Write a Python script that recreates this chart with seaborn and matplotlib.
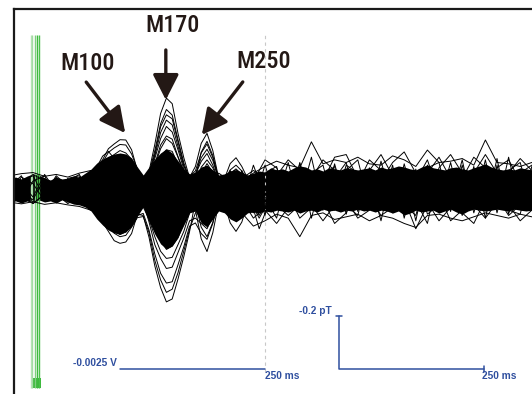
import pandas as pd
import matplotlib
matplotlib.use("Agg")
import matplotlib.pyplot as plt
import seaborn as sns
from matplotlib import font_manager

# ---- values: time in ms, field in fT ----
core_ms = list(range(-40, 870, 10))
core_top = [41, 45, 38, 49, 57,
            53, 41, 34, 45, 38, 41, 49, 45, 60, 75,
            98, 113, 124, 132, 136, 132, 117, 83, 53, 83,
            113, 136, 151, 136, 106, 75, 57, 64, 83, 90,
            72, 53, 57, 68, 72, 64, 53, 60, 68, 64,
            80, 72, 76, 68, 80, 87, 83, 72, 76, 68,
            80, 76, 72, 80, 76, 72, 76, 80, 72, 83,
            76, 80, 87, 83, 76, 72, 83, 91, 80, 76,
            72, 80, 83, 76, 72, 80, 87, 95, 83, 76,
            72, 76, 72, 80, 76, 72]
core_bottom = [-49, -45, -53, -45, -49,
               -41, -49, -45, -53, -41, -49, -57, -60, -68, -83,
               -113, -136, -155, -166, -170, -162, -140, -102, -68, -121,
               -170, -207, -226, -215, -181, -136, -90, -83, -128, -143,
               -113, -83, -90, -113, -124, -109, -90, -87, -90, -83,
               -87, -80, -83, -87, -80, -91, -83, -80, -87, -76,
               -83, -80, -87, -80, -83, -76, -83, -80, -87, -80,
               -83, -91, -83, -98, -91, -80, -87, -83, -80, -91,
               -83, -76, -87, -95, -83, -76, -80, -83, -80, -76,
               -80, -83, -76, -80, -83, -80]

# evoked part of the strongest channels
evoked_ms = list(range(80, 430, 10))
ch01 = [-8, -10, -28, -47, -78, -96, -118, -120, -122, -95, -58, 8, 66, 168, 285, 343, 322, 210,
        118, 42, -28, -88, -115, -80, -24, 10, 32, 40, 26, 12, -4, -10, -6, 4, 8]
ch02 = [6, 12, 35, 78, 110, 152, 170, 186, 185, 148, 70, -30, -92, -158, -195, -228, -215, -185,
        -130, -80, -12, 55, 75, 50, 15, -22, -44, -58, -40, -18, -2, 6, 10, 4, -3]
ch03 = [-4, -12, -44, -80, -126, -160, -195, -205, -200, -168, -95, -100, -182, -290, -372, -426,
        -415, -340, -255, -160, -45, 55, 96, 62, 18, -28, -58, -72, -58, -24, -8, 4, 12, 6, -2]
ch04 = [3, 6, 30, 82, 124, 142, 115, 82, 55, 42, 22, 18, 55, 132, 235, 280, 265, 178,
        90, 28, -78, -188, -236, -165, -55, 18, 48, 55, 45, 18, 2, -6, -3, 5, 2]
ch05 = [5, 12, 32, 70, 100, 138, 155, 168, 166, 132, 75, 25, 45, 115, 190, 236, 215, 148,
        75, 44, 85, 172, 210, 145, 42, -55, -128, -160, -125, -55, -10, 5, 8, 2, -4]
ch06 = [-4, -12, -30, -70, -105, -132, -160, -172, -162, -138, -100, -92, -155, -245, -318, -355,
        -350, -286, -218, -140, -128, -168, -190, -130, -38, 38, 96, 118, 85, 40, 6, -5, -8, -2, 4]
ch07 = [-2, -6, -5, 10, 18, -6, -58, -115, -138, -118, -70, -4, 36, 88, 152, 190, 172, 120,
        60, 34, 56, 118, 150, 108, 36, 4, -2, 3, -4, -18, -75, -150, -92, -25, 2]
ch08 = [4, 10, 26, 60, 84, 116, 130, 145, 136, 112, 45, -50, -124, -210, -262, -300, -295, -240,
        -185, -120, -110, -130, -150, -104, -36, 28, 58, 76, 55, 24, 4, -4, 2, 6, 2]
ch09 = [2, -3, -20, -35, -58, -72, -90, -92, -94, -72, -45, -2, 32, 70, 126, 148, 142, 92,
        52, 28, 54, 104, 134, 90, 30, -30, -78, -92, -70, -35, -6, 4, 2, -5, -2]
ch10 = [-3, 4, 25, 42, 70, 88, 108, 110, 112, 92, 36, -28, -82, -128, -168, -186, -185, -150,
        -116, -66, -12, 40, 55, 42, 6, -38, -92, -112, -88, -50, -68, -110, -70, -15, 3]
ch11 = [2, 3, -6, -32, -48, -40, 6, 58, 88, 72, 44, 12, 25, 52, 95, 110, 108, 68,
        40, 10, -25, -58, -78, -50, -20, 4, 8, 5, -2, -6, -3, 4, 6, 2, -3]
ch12 = [-5, -9, -24, -55, -76, -108, -120, -134, -125, -108, -75, -68, -114, -180, -235, -262,
        -258, -210, -160, -90, -10, 82, 110, 80, 30, 28, 62, 72, 58, 24, 8, -3, -6, 0, 4]
ch13 = [4, 0, 14, 20, 36, 44, 56, 55, 58, 44, 28, 8, 18, 34, 64, 72, 72, 45,
        28, 2, -40, -88, -115, -76, -34, -18, -48, -55, -45, -18, -8, -2, 4, 6, 0]
ch14 = [-2, -6, -12, -32, -42, -62, -68, -78, -70, -62, -42, -44, -60, -106, -130, -152, -144, -125,
        -88, -60, -62, -78, -96, -64, -20, 18, 34, 46, 32, 18, 2, -4, 2, 4, -2]
ch21 = [2, 5, 17, 40, 55, 78, 85, 96, 90, 76, 40, 19, 42, 94, 166, 200, 188, 122,
        68, 33, 27, 50, 58, 44, 12, -14, -34, -40, -28, -14, -3, 2, -4, 3, 0]
ch22 = [-3, -9, -36, -72, -108, -144, -167, -180, -175, -144, -108, -104, -164, -269, -343, -390,
        -378, -316, -234, -151, -91, -64, -60, -42, -10, 32, 72, 90, 68, 32, 7, -3, 2, -4, 2]
ch23 = [4, 7, 26, 52, 78, 104, 121, 130, 126, 104, 45, -31, -84, -138, -176, -200, -194, -162,
        -120, -78, -50, -40, -40, -28, -8, 14, 32, 40, 30, 14, 3, -2, 3, -2, 1]
ch24 = [0, -3, 4, 24, 40, 32, 0, -36, -54, -48, -27, 7, 52, 125, 213, 260, 242, 161,
        86, 48, 68, 136, 170, 119, 39, -28, -64, -80, -60, -28, -6, 3, -2, 4, 0]
ch25 = [2, 3, 12, 24, 36, 48, 56, 60, 58, 48, 27, 21, 60, 144, 246, 300, 279, 186,
        99, 36, -54, -144, -180, -126, -43, 11, 24, 30, 23, 11, 2, -3, 2, 0, -2]
ch26 = [-3, -8, -30, -60, -90, -120, -140, -150, -146, -120, -76, -41, -50, -83, -106, -120,
        -116, -97, -72, -37, 41, 139, 180, 126, 39, -42, -96, -120, -90, -52, -60, -100, -60, -15, 0]

# channels that stick out of the band over the whole sweep
fuzz_ms = list(range(-40, 880, 20))
ch15 = [50, 58, 62, 48, 55, 45, 60, 70, 40, 20, 10, -20, 30, 60, 40, 10, 30, 50, 20, 40, 30, 60, 85,
        105, 90, 80, 178, 95, 110, 100, 120, 95, 90, 125, 110, 85, 147, 100, 105, 115, 90, 185, 100,
        95, 85, 100]
ch16 = [-50, -56, -48, -58, -52, -60, -66, -80, -60, -40, -20, 10, -30, -50, -30, -10, -40, -60, -40,
        -70, -90, -140, -120, -95, -110, -180, -100, -90, -115, -105, -95, -120, -100, -110, -130,
        -145, -100, -95, -110, -120, -105, -90, -100, -110, -95, -105]
ch17 = [-30, 20, 55, 30, -20, -55, -30, 20, 30, -10, -20, 10, 20, -10, 15, 20, -10, 30, 10, -20, 40,
        70, 40, -60, -100, -60, 40, 110, 70, -40, -110, -80, 30, 100, 140, 60, -50, -120, -70, 40,
        120, 80, -30, -100, -60, 40]
ch18 = [20, -30, -55, -20, 35, 20, -25, -50, -20, 20, 30, 0, -20, 20, 10, -20, 10, -30, -20, 30, -40,
        -110, -70, 50, 110, 70, -60, -120, -60, 90, 60, -30, -100, -70, -40, -150, -60, 80, 130, 60,
        -60, -110, -50, 60, 115, 70]
ch19 = [-10, 45, 20, -45, -30, 40, 50, 0, -30, 10, 20, -10, 10, 30, -20, -30, 20, 20, -20, -40, 20,
        30, 110, 80, -20, -110, -70, 30, 120, 130, 40, 70, 130, 50, -60, -100, 60, 120, 40, -90,
        -130, -40, 80, 110, 30, -70]
ch20 = [35, -20, -40, 40, 10, -20, 20, 40, -10, -30, 0, 20, -10, -20, -15, 15, -20, -40, 20, 50, 60,
        -20, -80, -130, -70, 20, 60, -40, -130, -90, 20, 110, 70, -40, -90, 30, 110, -20, -120, -80,
        60, 130, 60, -60, -120, -80]
ch27 = [40, -45, 30, 50, -40, 30, 55, -45, 20, -20, 30, -10, 10, -30, 20, -10, 30, -20, 40, -60,
        70, -50, 90, -40, 100, -70, 60, 90, -80, 70, 110, -60, 50, -90, 95, -70, 80, 100, -85, 90,
        -70, 110, -90, 70, 100, -60]
ch28 = [-45, 30, 50, -35, 45, -50, 20, 60, -30, 15, -25, 20, -15, 25, -20, 15, -30, 40, -50, 70,
        -40, -90, 60, 85, -75, 100, -50, -80, 95, -60, -100, 80, -70, 90, -110, 75, -95, -60, 100, -75,
        85, -110, 90, -80, -95, 85]
ch29 = [10, 50, -55, -20, 50, 10, -50, 40, 25, -35, 10, -20, 30, 10, -25, 30, -15, -35, 60, 30,
        -80, 50, -100, 70, -50, 95, -110, 50, 85, -95, 60, -75, 105, -50, 70, -120, 90, -70, 75, -100,
        60, -80, 115, -95, 60, 90]
ch30 = [-55, 20, -30, 55, -10, -40, 45, -20, -45, 30, 15, -30, 10, 25, -10, -35, 25, 10, -70, 55,
        -60, 90, -30, -110, 60, -40, 120, -70, 40, 100, -85, 40, -120, 75, 60, -45, -130, 70, -50, 110,
        -90, 50, -75, 120, -70, 55]

trigger_ms = [-4.3, -0.9, 3.1, 6.9, 9.5]
trigger_colors = ["#b9e4b9", "#a3dba3", "#7fcd7f", "#3dbb3d", "#49c049"]

components = ["M100", "M170", "M250"]
component_ms = [159, 229, 291]
component_fT = [211, 336, 204]

time_bar_ms = 250
field_bar_fT = 200
volt_label = "-0.0025 V"
field_label = "-0.2 pT"
time_label = "250 ms"
marker_ms = 400

# ---- layout / style ----
W, H = 532, 394
ms_per_px = 250 / 145
fT_per_px = 200 / 53
x_left, y_top = 14, 9
t_origin_px, base_px = 33, 189

ink = "#231815"
blue = "#2f4f9f"

installed = {f.name for f in font_manager.fontManager.ttflist}
label_font, label_stretch, label_size = None, "normal", 17.3
for name in ["Liberation Sans Narrow", "Roboto Condensed", "Open Sans Condensed",
             "Noto Sans Condensed", "DejaVu Sans Condensed"]:
    if name in installed:
        label_font = name
        break
if label_font is None:
    for f in font_manager.fontManager.ttflist:
        if f.name in ("DejaVu Sans", "Noto Sans", "Roboto", "Open Sans") and \
                str(f.stretch) in ("condensed", "semi-condensed", "extra-condensed"):
            label_font, label_stretch = f.name, str(f.stretch)
            break
if label_font is None:
    label_font = "Liberation Sans" if "Liberation Sans" in installed else "DejaVu Sans"
    label_size = 14.5
bar_font = "Liberation Sans" if "Liberation Sans" in installed else "DejaVu Sans"

sns.set_style("white")

fig = plt.figure(figsize=(W / 100, H / 100), dpi=100)
ax = fig.add_axes([x_left / W, 0, 1 - x_left / W, 1 - y_top / H])
ax.set_xlim((x_left - t_origin_px) * ms_per_px, (W - t_origin_px) * ms_per_px)
ax.set_ylim((base_px - H) * fT_per_px, (base_px - y_top) * fT_per_px)
ax.set_xticks([])
ax.set_yticks([])
for side in ["right", "bottom"]:
    ax.spines[side].set_visible(False)
for side in ["left", "top"]:
    ax.spines[side].set_linewidth(1.6)
    ax.spines[side].set_color("#1a1a1a")

# trigger channel
ax.vlines(trigger_ms, -751, 581, colors=trigger_colors, linewidth=1.0)
ax.fill_between([-3.4, 13.8], -751, -713, color="#3cb83c", linewidth=0)

# 400 ms marker
ax.vlines(marker_ms, -691, 581, colors="#c8c8c8", linewidth=0.8, linestyles=(0, (3, 3)))

# dense core of the butterfly plot
ax.fill_between(core_ms, core_bottom, core_top, color="black", linewidth=0)

frames = []
evoked_sets = [ch01, ch02, ch03, ch04, ch05, ch06, ch07, ch08, ch09, ch10, ch11, ch12, ch13, ch14,
               ch21, ch22, ch23, ch24, ch25, ch26]
for i, vals in enumerate(evoked_sets):
    frames.append(pd.DataFrame({"ms": evoked_ms, "fT": vals, "channel": f"e{i}"}))
fuzz_sets = [ch15, ch16, ch17, ch18, ch19, ch20, ch27, ch28, ch29, ch30]
for i, vals in enumerate(fuzz_sets):
    frames.append(pd.DataFrame({"ms": fuzz_ms, "fT": vals, "channel": f"f{i}"}))
traces = pd.concat(frames, ignore_index=True)

sns.lineplot(data=traces, x="ms", y="fT", units="channel", estimator=None,
             color="black", linewidth=0.7, sort=False, legend=False, ax=ax)
ax.set_xlabel("")
ax.set_ylabel("")

# component arrows and labels (offsets in pixels from the peak)
tails = [(-39, 51), (0, 50), (41, 53)]
label_off = [(-38, 63), (6.5, 68), (61.5, 67)]
for name, t, f, tail, lo in zip(components, component_ms, component_fT, tails, label_off):
    ax.annotate("", xy=(t, f), xytext=tail, textcoords="offset pixels",
                arrowprops=dict(arrowstyle="-|>,head_length=0.65,head_width=0.33",
                                lw=2.4, color=ink, shrinkA=0, shrinkB=0, mutation_scale=24))
    ax.annotate(name, xy=(t, f), xytext=lo, textcoords="offset pixels",
                ha="center", va="baseline", fontsize=label_size, family=label_font,
                fontstretch=label_stretch, fontweight="medium", color=ink)

# scale bars
bar_y = -679
volt_start = 150
field_x = 527.6
ax.plot([volt_start, volt_start + time_bar_ms], [bar_y, bar_y], color=blue, lw=1.1)
ax.text(volt_start - 5, -668, volt_label, ha="right", va="baseline", fontsize=7.3,
        fontweight="bold", family=bar_font, color=blue)
ax.text(volt_start + time_bar_ms, -717, time_label, ha="left", va="baseline", fontsize=7.3,
        fontweight="bold", family=bar_font, color=blue)

ax.plot([field_x, field_x, field_x + time_bar_ms], [bar_y + field_bar_fT, bar_y, bar_y],
        color=blue, lw=1.1)
ax.plot([field_x - 5, field_x + 5], [bar_y + field_bar_fT] * 2, color=blue, lw=1.1)
ax.plot([field_x + time_bar_ms] * 2, [bar_y - 11, bar_y + 11], color=blue, lw=1.1)
ax.text(field_x - 12, -472, field_label, ha="right", va="baseline", fontsize=7.3,
        fontweight="bold", family=bar_font, color=blue)
ax.text(field_x + time_bar_ms - 3, -717, time_label, ha="left", va="baseline", fontsize=7.3,
        fontweight="bold", family=bar_font, color=blue)

fig.savefig("out.png", dpi=100, facecolor="white")
